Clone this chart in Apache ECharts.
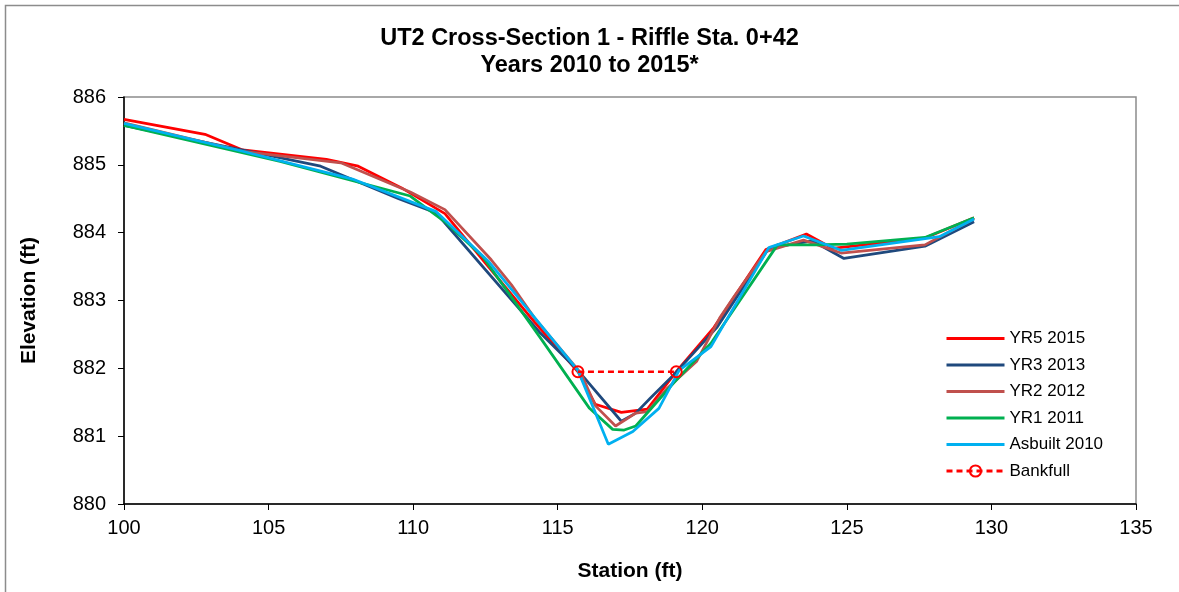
<!DOCTYPE html>
<html>
<head>
<meta charset="utf-8">
<script src="https://cdn.jsdelivr.net/npm/echarts@6/dist/echarts.min.js"></script>
<style>
  html, body { margin: 0; padding: 0; background: #fff; }
  #chart { width: 1179px; height: 592px; }
</style>
</head>
<body>
<div id="chart"></div>
<script>
// station (ft), elevation (ft) pairs
var yr5_2015 = [[100, 885.67], [102.8, 885.45], [104.1, 885.22], [107.0, 885.08], [108.1, 884.98], [109.6, 884.66], [111.1, 884.28], [112.5, 883.55], [114.2, 882.68], [115.7, 881.95], [116.3, 881.47], [117.2, 881.35], [118.1, 881.40], [119.1, 881.95], [120.4, 882.60], [122.2, 883.75], [123.6, 883.98], [124.5, 883.77], [127.7, 883.92], [129.4, 884.22]]
var yr3_2013 = [[100, 885.58], [106.8, 884.98], [109.5, 884.50], [110.8, 884.29], [114.4, 882.52], [115.7, 881.97], [117.2, 881.22], [117.7, 881.34], [118.2, 881.56], [119.0, 881.90], [120.5, 882.60], [122.3, 883.77], [123.8, 883.88], [124.9, 883.62], [127.7, 883.80], [129.4, 884.16]]
var yr2_2012 = [[100, 885.62], [104.1, 885.20], [107.5, 885.03], [109.9, 884.60], [111.1, 884.34], [112.7, 883.60], [113.4, 883.23], [114.2, 882.74], [115.8, 881.93], [116.3, 881.45], [117.0, 881.15], [117.7, 881.34], [118.1, 881.36], [118.8, 881.71], [119.8, 882.10], [120.6, 882.74], [121.1, 883.06], [122.2, 883.72], [123.5, 883.89], [124.8, 883.70], [127.7, 883.82], [129.4, 884.21]]
var yr1_2011 = [[100, 885.58], [105.4, 885.05], [109.9, 884.54], [111.1, 884.16], [112.4, 883.65], [114.45, 882.42], [116.1, 881.41], [116.9, 881.10], [117.3, 881.09], [117.7, 881.15], [119.0, 881.78], [120.3, 882.37], [122.6, 883.82], [123.9, 883.82], [125.0, 883.83], [127.7, 883.93], [129.4, 884.22]]
var asbuilt_2010 = [[100, 885.61], [104.1, 885.20], [107.9, 884.79], [110.8, 884.31], [112.6, 883.58], [115.7, 881.97], [116.75, 880.88], [117.6, 881.07], [118.5, 881.41], [119.2, 881.97], [120.3, 882.32], [122.3, 883.78], [123.5, 883.95], [124.8, 883.74], [128.2, 883.94], [129.4, 884.20]]
var bankfull = [[115.7, 881.95], [119.1, 881.95]]

var seriesNames = ['YR5 2015', 'YR3 2013', 'YR2 2012', 'YR1 2011', 'Asbuilt 2010', 'Bankfull']
var seriesColors = ['#ff0000', '#1f497d', '#c0504d', '#00b050', '#00b0f0', '#ff0000']
var seriesData = [yr5_2015, yr3_2013, yr2_2012, yr1_2011, asbuilt_2010]

var font = "'Liberation Sans', Arial, sans-serif"

var series = seriesData.map(function (d, i) {
  return {
    name: seriesNames[i],
    type: 'line',
    data: d,
    symbol: 'none',
    color: seriesColors[i],
    lineStyle: { width: 2.75, color: seriesColors[i] },
    animation: false
  }
})
series.push({
  name: 'Bankfull',
  type: 'line',
  data: bankfull,
  symbol: 'circle',
  symbolSize: 11,
  color: '#ff0000',
  itemStyle: { color: 'rgba(255,255,255,0)', borderColor: '#ff0000', borderWidth: 2 },
  lineStyle: { width: 2.5, type: [6, 4], color: '#ff0000' },
  animation: false,
  z: 5
})

// legend: plain line for the surveys, dashed line with ring for bankfull
var legendData = seriesNames.map(function (n, i) {
  if (n === 'Bankfull') return { name: n }
  return { name: n, itemStyle: { opacity: 0 } }
})

var chart = echarts.init(document.getElementById('chart'))
chart.setOption({
  animation: false,
  title: {
    text: 'UT2 Cross-Section 1 - Riffle Sta. 0+42\nYears 2010 to 2015*',
    left: 'center',
    top: 20,
    textStyle: { fontFamily: font, fontSize: 23.5, fontWeight: 'bold', color: '#000', lineHeight: 27 }
  },
  graphic: [{
    type: 'rect',
    shape: { x: 5.5, y: 5.5, width: 1300, height: 700 },
    style: { fill: 'none', stroke: '#8c8c8c', lineWidth: 1.5 },
    silent: true
  }],
  legend: {
    orient: 'vertical',
    left: 940,
    top: 325,
    itemWidth: 58,
    itemHeight: 14,
    itemGap: 9.5,
    lineStyle: { width: 3 },
    data: legendData,
    textStyle: { fontFamily: font, fontSize: 17, color: '#000' }
  },
  grid: {
    left: 124,
    right: 43,
    top: 97,
    bottom: 88,
    show: true,
    borderColor: '#8c8c8c',
    borderWidth: 1.5
  },
  xAxis: {
    type: 'value',
    min: 100,
    max: 135,
    interval: 5,
    name: 'Station (ft)',
    nameLocation: 'middle',
    nameGap: 57,
    nameTextStyle: { fontFamily: font, fontSize: 21, fontWeight: 'bold', color: '#000' },
    axisLine: { show: true, lineStyle: { color: '#000', width: 1.5 } },
    axisTick: { show: true, inside: false, length: 6, lineStyle: { color: '#000' } },
    axisLabel: { fontFamily: font, fontSize: 20, color: '#000', margin: 14 },
    splitLine: { show: false }
  },
  yAxis: {
    type: 'value',
    min: 880,
    max: 886,
    interval: 1,
    name: 'Elevation (ft)',
    nameLocation: 'middle',
    nameGap: 84,
    nameRotate: 90,
    nameTextStyle: { fontFamily: font, fontSize: 21, fontWeight: 'bold', color: '#000' },
    axisLine: { show: true, lineStyle: { color: '#000', width: 1.5 } },
    axisTick: { show: true, inside: false, length: 6, lineStyle: { color: '#000' } },
    axisLabel: { fontFamily: font, fontSize: 20, color: '#000', margin: 18 },
    splitLine: { show: false }
  },
  series: series
})
</script>
</body>
</html>
